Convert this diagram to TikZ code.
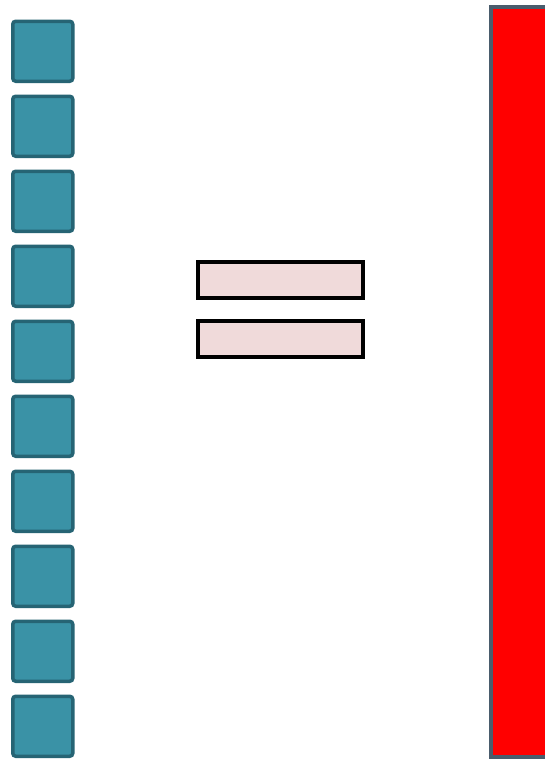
\documentclass[tikz,border=0pt]{standalone}
\usetikzlibrary{positioning}
\definecolor{tealcell}{RGB}{58,146,166}
\definecolor{tealedge}{RGB}{38,100,116}
\definecolor{slab}{RGB}{255,0,0}
\definecolor{slabedge}{RGB}{74,92,108}
\definecolor{blush}{RGB}{240,218,218}
\tikzset{
  cell/.style={draw=tealedge,fill=tealcell,line width=3.5pt,rounded corners=3pt,
    minimum width=60pt,minimum height=60pt,inner sep=0pt,anchor=north west},
  slabbox/.style={draw=slabedge,fill=slab,line width=4pt,
    minimum width=70pt,minimum height=750pt,inner sep=0pt,anchor=north west},
  plate/.style={draw=black,fill=blush,line width=4pt,
    minimum width=165pt,minimum height=36pt,inner sep=0pt},
}
\begin{document}
\begin{tikzpicture}[x=1pt,y=-1pt]
  \clip (0,0) rectangle (545,761);
  \fill[white] (0,0) rectangle (545,761);
  % column of cells
  \foreach \i [count=\k from 0] in {1,...,10}
    \node[cell] (cell\i) at (11,19.5+\k*75) {};
  % red slab, cut by the right edge
  \node[slabbox] (slab) at (489,5) {};
  % two plates
  \node[plate] (plateA) at (280.5,280) {};
  \node[plate,below=18.5pt of plateA] (plateB) {};
\end{tikzpicture}
\end{document}
